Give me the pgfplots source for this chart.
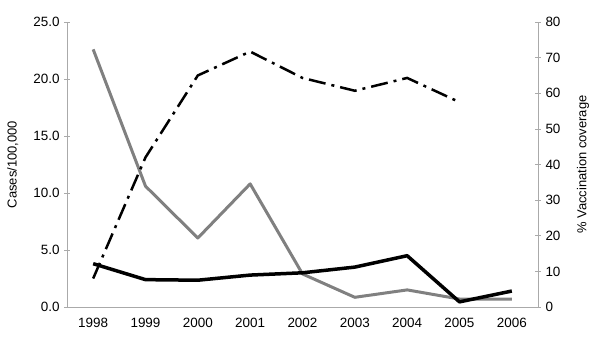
\documentclass[border=0pt]{standalone}
\usepackage{fontspec}
\setmainfont{Liberation Sans}
\usepackage{pgfplots}
\pgfplotsset{compat=1.18}
\definecolor{axgray}{RGB}{170,170,170}
\definecolor{lgray}{RGB}{128,128,128}
\begin{document}
\begin{tikzpicture}[x=1bp,y=1bp]
\pgfplotsset{
  common/.style={
    scale only axis, width=471bp, height=285bp,
    xmin=1997.5, xmax=2006.5,
    xtick={1998,...,2006},
    x tick label style={/pgf/number format/1000 sep={}},
    tick align=center,
    major tick length=6bp,
    tick style={axgray, line width=0.7bp},
    every axis label/.append style={font=\fontsize{13}{15}\selectfont},
    tick label style={font=\fontsize{13.5}{15}\selectfont},
    /pgf/number format/assume math mode=true,
    clip=false,
  }
}
\begin{axis}[common,
  at={(0,0)}, anchor=south west,
  axis x line*=bottom, axis y line*=left,
  axis line style={axgray, line width=0.8bp, -},
  ymin=0, ymax=25, ytick={0,5,...,25},
  yticklabel style={/pgf/number format/fixed, /pgf/number format/fixed zerofill, /pgf/number format/precision=1, xshift=-1bp},
  xticklabel style={yshift=-5bp},
  x tick style={draw=none},
  ylabel={Cases/100,000},
  ylabel style={at={(axis description cs:-0.115,0.5)}, anchor=center},
]
\addplot[lgray, line width=3bp, line join=round] coordinates {
(1998,22.6) (1999,10.6) (2000,6.05) (2001,10.8) (2002,2.9) (2003,0.85) (2004,1.5) (2005,0.7) (2006,0.7)};
\addplot[black, line width=3.5bp, line join=round] coordinates {
(1998,3.8) (1999,2.4) (2000,2.35) (2001,2.8) (2002,3.0) (2003,3.5) (2004,4.5) (2005,0.45) (2006,1.4)};
\end{axis}
\begin{axis}[common,
  at={(0,0)}, anchor=south west,
  axis x line=none, axis y line*=right,
  axis line style={axgray, line width=0.8bp, -},
  ymin=0, ymax=80, ytick={0,10,...,80},
  yticklabel style={/pgf/number format/fixed, /pgf/number format/precision=0, xshift=1bp},
  ylabel={\% Vaccination coverage},
  ylabel style={at={(axis description cs:1.0955,0.5)}, anchor=center},
]
\addplot[black, line width=2.5bp, dash pattern=on 17bp off 6bp on 3bp off 6bp] coordinates {
(1998,8) (1999,42) (2000,65) (2001,71.7) (2002,64.3) (2003,60.7) (2004,64.3) (2005,57.5)};
\end{axis}
\pgfresetboundingbox
\useasboundingbox (-67bp,-37bp) rectangle (533bp,307bp);
\end{tikzpicture}
\end{document}
